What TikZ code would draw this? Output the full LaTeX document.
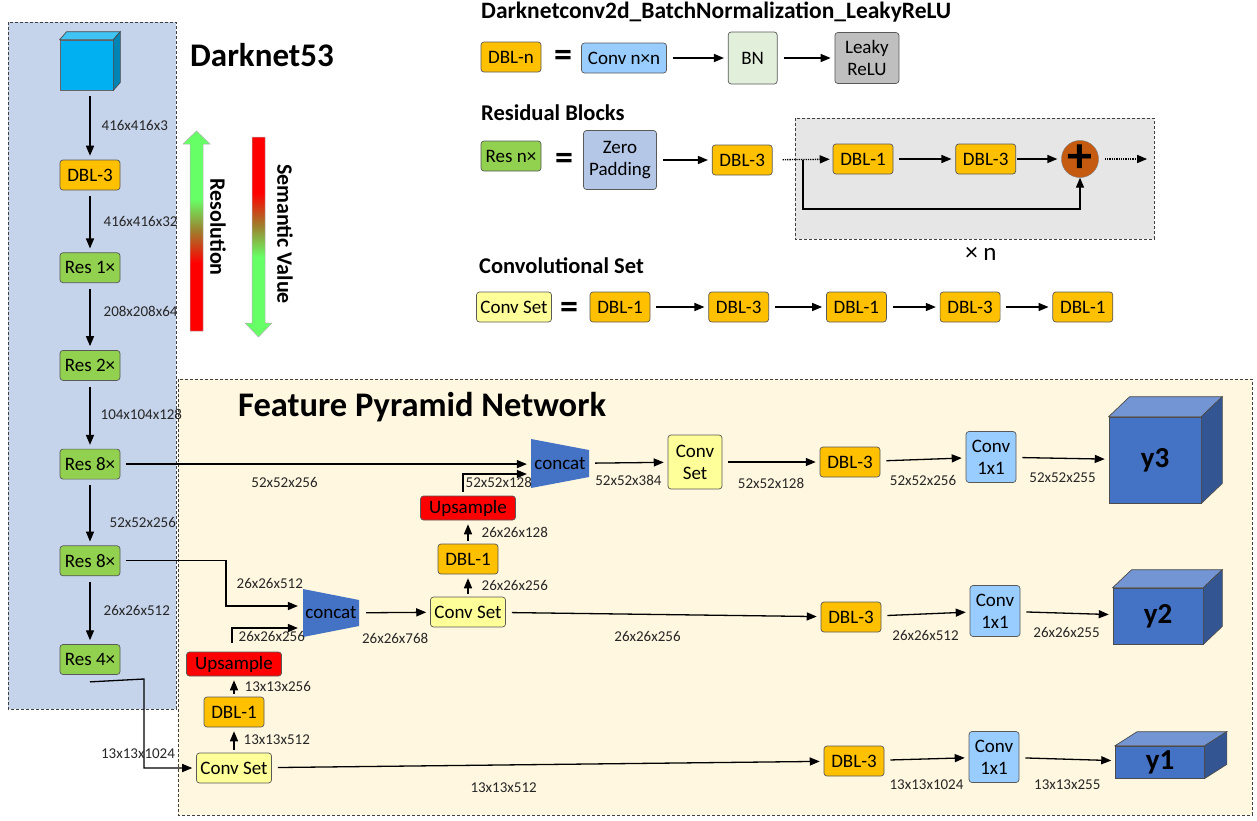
\documentclass[tikz,border=0pt]{standalone}
\usepackage{fontspec}
\setmainfont{Carlito}
\usepackage{tikz}
\usetikzlibrary{arrows,calc,positioning}

\definecolor{dnblue}{RGB}{197,211,235}
\definecolor{fpncream}{RGB}{255,247,224}
\definecolor{dblorange}{RGB}{255,192,0}
\definecolor{resgreen}{RGB}{146,208,80}
\definecolor{csyellow}{RGB}{255,255,153}
\definecolor{convblue}{RGB}{153,204,255}
\definecolor{bngreen}{RGB}{226,239,218}
\definecolor{relugray}{RGB}{191,191,191}
\definecolor{zpblue}{RGB}{180,199,231}
\definecolor{loopgray}{RGB}{231,230,230}
\definecolor{sumbrown}{RGB}{197,90,17}
\definecolor{catblue}{RGB}{68,114,196}
\definecolor{inpcyan}{RGB}{0,176,240}
\definecolor{arrgreen}{RGB}{102,255,102}
\definecolor{arrred}{RGB}{255,0,0}
\definecolor{arrmid}{RGB}{160,125,45}

\pgfdeclareverticalshading{resshade}{100bp}{color(0bp)=(arrred); color(42bp)=(arrred); color(50bp)=(arrmid); color(58bp)=(arrgreen); color(100bp)=(arrgreen)}
\pgfdeclareverticalshading{semshade}{100bp}{color(0bp)=(arrgreen); color(45bp)=(arrgreen); color(53bp)=(arrmid); color(61bp)=(arrred); color(100bp)=(arrred)}

\tikzset{
  blk/.style={draw=black!65, line width=0.7pt, rounded corners=3pt, minimum height=30pt, inner sep=2pt, align=center, font=\fontsize{19}{22}\selectfont},
  dbl/.style={blk, fill=dblorange, minimum width=60pt},
  res/.style={blk, fill=resgreen, minimum width=60pt},
  cset/.style={blk, fill=csyellow, minimum width=75pt},
  conv/.style={blk, fill=convblue, minimum width=50pt, minimum height=51pt},
  upsmp/.style={blk, fill=red, minimum width=95pt, minimum height=24pt},
  cat/.style={minimum width=58pt, minimum height=49pt, inner sep=0pt, font=\fontsize{19}{22}\selectfont},
  outcube/.style={draw=black!70, line width=0.7pt, fill=catblue, inner sep=0pt, font=\bfseries\fontsize{29}{31}\selectfont},
  dimlbl/.style={font=\fontsize{15}{17}\selectfont, text=black!85, inner sep=2pt},
  hdr/.style={anchor=west, inner sep=0pt, font=\bfseries\fontsize{22.5}{25}\selectfont},
  eqs/.style={inner sep=0pt, font=\bfseries\fontsize{36}{36}\selectfont},
  region/.style={draw=black!75, line width=0.7pt, dash pattern=on 3pt off 2pt},
  conn/.style={->, line width=1.3pt, shorten <=6pt, shorten >=4pt},
  stub/.style={->, line width=1.3pt, shorten <=3pt, shorten >=4pt},
  dotconn/.style={->, line width=1.3pt, densely dotted, shorten <=10pt, shorten >=3pt},
}

% side and top faces of a box drawn on a node
\newcommand{\cubefaces}[4]{%
  \filldraw[fill=#4!75!white, draw=black!70, line width=0.7pt] (#1.north west) -- ++(#2,-#3) -- ([shift={(#2,-#3)}]#1.north east) -- (#1.north east) -- cycle;
  \filldraw[fill=#4!75!black, draw=black!70, line width=0.7pt] (#1.north east) -- ([shift={(#2,-#3)}]#1.north east) -- ([shift={(#2,-#3)}]#1.south east) -- (#1.south east) -- cycle;
}

\begin{document}
\begin{tikzpicture}[x=1pt, y=-1pt, >=triangle 45]
	\useasboundingbox (0,0) rectangle (1257,820);

	% regions
	\filldraw[region, fill=dnblue] (8,22) rectangle (176,709);
	\filldraw[region, fill=fpncream] (178,379) rectangle (1252,815);
	\filldraw[region, fill=loopgray] (795,118) rectangle (1154,239);

	\node[font=\bfseries\fontsize{33}{35}\selectfont] (t1) at (262,55) {Darknet53};
	\node[font=\bfseries\fontsize{34.5}{36}\selectfont, anchor=west, inner sep=0pt] (t2) at (238,407) {Feature Pyramid Network};

	% resolution / semantic value
	\shadedraw[shading=resshade, draw=black!30, line width=0.5pt] (190,331) -- (190,144) -- (183,144) -- (196.5,131) -- (210,144) -- (203,144) -- (203,331) -- cycle;
	\shadedraw[shading=semshade, draw=black!30, line width=0.5pt] (252,137) -- (265,137) -- (265,323) -- (272,323) -- (258.5,337) -- (245,323) -- (252,323) -- cycle;
	\node[rotate=-90, font=\bfseries\fontsize{22}{24}\selectfont] (resl) at (218,227) {Resolution};
	\node[rotate=-90, font=\bfseries\fontsize{22}{24}\selectfont] (seml) at (285,234) {Semantic Value};

	% Darknet53 backbone
	\node[draw=black!60, line width=0.7pt, fill=inpcyan, minimum width=53pt, minimum height=50pt, inner sep=0pt] (img) at (86.5,65) {};
	\cubefaces{img}{7}{8}{inpcyan}
	\node[dbl] (dbl0) at (90,175) {DBL-3};
	\node[res] (r1) [below = 62pt of dbl0] {Res 1×};
	\node[res] (r2) [below = 67pt of r1] {Res 2×};
	\node[res] (r8a) [below = 68pt of r2] {Res 8×};
	\node[res] (r8b) [below = 66pt of r8a] {Res 8×};
	\node[res] (r4) [below = 68pt of r8b] {Res 4×};

	\path[conn]
	(img.south -| dbl0) edge node[dimlbl, right=9pt] {416x416x3} (dbl0)
	(dbl0) edge node[dimlbl, right=11pt] {416x416x32} (r1)
	(r1) edge node[dimlbl, right=11pt, pos=.42] {208x208x64} (r2)
	(r2) edge node[dimlbl, right=8pt] {104x104x128} (r8a)
	(r8a) edge node[dimlbl, right=17pt, pos=.65] {52x52x256} (r8b)
	(r8b) edge node[dimlbl, right=11pt] {26x26x512} (r4)
	;

	% DBL legend
	\node[hdr, font=\bfseries\fontsize{23.5}{25}\selectfont] (h1) at (481,12) {Darknetconv2d\_BatchNormalization\_LeakyReLU};
	\node[dbl] (dn) at (511,57) {DBL-n};
	\node[eqs] (eq1) at (563,58) {=};
	\node[blk, fill=convblue, minimum width=85pt] (cnn) at (624,58) {Conv n×n};
	\node[blk, fill=bngreen, minimum width=49pt, minimum height=52pt] (bn) [right = 61pt of cnn] {BN};
	\node[blk, fill=relugray, minimum width=64pt, minimum height=51pt] (lk) [right = 57pt of bn] {Leaky\\ReLU};
	\path[conn] (cnn) edge (bn) (bn) edge (lk);

	% residual legend
	\node[hdr] (h2) at (481,113) {Residual Blocks};
	\node[res] (rn) at (511,156) {Res n×};
	\node[eqs] (eq2) at (564,161) {=};
	\node[blk, fill=zpblue, minimum width=73pt, minimum height=59pt] (zp) at (620,160) {Zero\\Padding};
	\node[dbl] (rd3) [right = 55pt of zp] {DBL-3};
	\node[dbl] (rd1) at (863,159) {DBL-1};
	\node[dbl] (rd3b) [right = 62pt of rd1] {DBL-3};
	\node[circle, draw=black!50, fill=sumbrown, minimum size=36pt, inner sep=0pt, font=\bfseries\fontsize{50}{50}\selectfont] (sum) at (1080,159) {+};
	\coordinate (sk) at (803,160);
	\coordinate (xo) at (1150,159);
	\node[font=\fontsize{25}{25}\selectfont] (xn) at (981,254) {× n};
	\path[conn] (zp) edge (rd3) (rd1) edge (rd3b) (rd3b) edge [shorten <=1pt] (sum);
	\draw[dotconn] (rd3) -- (rd1);
	\draw[dotconn, shorten <=6pt] (sum) -- (xo);
	\draw[conn, shorten <=0pt, shorten >=0pt] (sk) -- ++(0,49) -| (sum.south);

	% conv set legend
	\node[hdr] (h3) at (479,266) {Convolutional Set};
	\node[cset] (csl) at (514,307) {Conv Set};
	\node[eqs] (eq3) at (569,310) {=};
	\node[dbl] (s1) at (620,307) {DBL-1};
	\node[dbl] (s2) [right = 58pt of s1] {DBL-3};
	\node[dbl] (s3) [right = 57pt of s2] {DBL-1};
	\node[dbl] (s4) [right = 53pt of s3] {DBL-3};
	\node[dbl] (s5) [right = 52pt of s4] {DBL-1};
	\foreach \a/\b in {s1/s2,s2/s3,s3/s4,s4/s5}
		\draw[conn] (\a) -- (\b);

	% FPN
	\fill[catblue] (303,589) -- (359,600) -- (359,626) -- (303,637) -- cycle;
	\fill[catblue] (531,439) -- (589,450) -- (589,477) -- (531,488) -- cycle;
	\node[cat] (cat1) at (331,613) {concat};
	\node[cat] (cat2) at (560,463.5) {concat};

	\node[cset] (cs1) at (234,768) {Conv Set};
	\node[dbl] (d1) at (234,712) {DBL-1};
	\node[upsmp] (up1) at (234,664) {Upsample};
	\node[cset] (cs2) at (468,612) {Conv Set};
	\node[dbl] (d2) at (468,559) {DBL-1};
	\node[upsmp] (up2) at (468,508) {Upsample};
	\node[cset, minimum width=54pt, minimum height=54pt] (cs3) at (695,462) {Conv\\Set};

	\node[dbl] (dA) at (850,462) {DBL-3};
	\node[dbl] (dB) at (851,617) {DBL-3};
	\node[dbl] (dC) at (854,761) {DBL-3};
	\node[conv] (cvA) at (991,457) {Conv\\1x1};
	\node[conv] (cvB) at (995,611) {Conv\\1x1};
	\node[conv] (cvC) at (994,757) {Conv\\1x1};
	\node[outcube, minimum width=92pt, minimum height=86pt] (y3) at (1155,460) {y3};
	\node[outcube, minimum width=90pt, minimum height=56pt] (y2) at (1158,616) {y2};
	\node[outcube, minimum width=89pt, minimum height=32pt] (y1) at (1160,762) {y1};
	\cubefaces{y3}{21}{20}{catblue}
	\cubefaces{y2}{19}{18}{catblue}
	\cubefaces{y1}{22}{14}{catblue}

	\coordinate (b1) at (226,606);
	\coordinate (b2) at (232,628);
	\coordinate (b3) at (144,679);
	\coordinate (b4) at (463,474);

	% lateral links from the backbone
	\draw[conn] (r8a.east) -- node[dimlbl, below=11pt, pos=.4] {52x52x256} (r8a.east -| cat2.west);
	\draw[conn] (r8b.east) -| (b1) node[dimlbl, pos=.75, right=8pt] {26x26x512} -- (b1 -| cat1.west);
	\draw[conn, shorten <=0pt] ([yshift=-7pt]r4.south) -- (b3) |- node[dimlbl, pos=.42, xshift=-6pt] {13x13x1024} (cs1.west);

	% upsampling paths
	\draw[conn, shorten <=9pt] (up1.north -| b2) |- node[dimlbl, pos=.5, below right=1pt and 4pt] {26x26x256} (b2 -| cat1.west);
	\draw[conn, shorten <=4pt] (up2.north -| b4) |- node[dimlbl, pos=.5, below right=1pt and 0pt] {52x52x128} (b4 -| cat2.west);
	\path[stub]
	(cs1) edge node[dimlbl, right=7pt] {13x13x512} (d1)
	(d1) edge node[dimlbl, right=8pt] {13x13x256} (up1)
	(cs2) edge node[dimlbl, right=11pt] {26x26x256} (d2)
	(d2) edge node[dimlbl, right=11pt] {26x26x128} (up2)
	;

	% outputs
	\path[conn]
	(cat1) edge node[dimlbl, below=18pt] {26x26x768} (cs2)
	(cat2) edge node[dimlbl, below=10pt] {52x52x384} (cs3)
	(cs3) edge node[dimlbl, below=14pt] {52x52x128} (dA)
	(dA) edge node[dimlbl, below=13pt] {52x52x256} (cvA)
	(cvA) edge node[dimlbl, below=12pt] {52x52x255} (y3)
	(cs2) edge node[dimlbl, below=14pt, pos=.45] {26x26x256} (dB)
	(dB) edge node[dimlbl, below=14pt] {26x26x512} (cvB)
	(cvB) edge node[dimlbl, below=12pt] {26x26x255} (y2)
	(cs1) edge node[dimlbl, below=15pt, pos=.42] {13x13x512} (dC)
	(dC) edge node[dimlbl, below=18pt] {13x13x1024} (cvC)
	(cvC) edge node[dimlbl, below=18pt] {13x13x255} (y1)
	;
\end{tikzpicture}
\end{document}
